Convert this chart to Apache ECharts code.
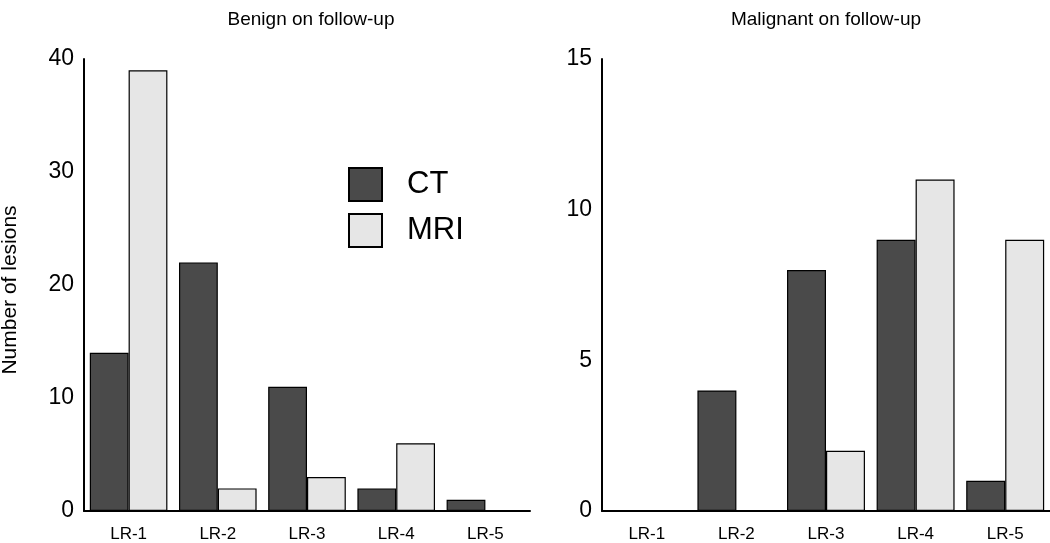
<!DOCTYPE html>
<html><head><meta charset="utf-8">
<script src="https://cdn.jsdelivr.net/npm/echarts@6/dist/echarts.min.js"></script>
<style>html,body{margin:0;padding:0;background:#fff}#c{width:1050px;height:543px}</style>
</head><body><div id="c"></div>
<script>
const categories = ['LR-1','LR-2','LR-3','LR-4','LR-5'];
const benignCT  = [14, 22, 11, 2, 1];
const benignMRI = [39, 2, 3, 6, 0];
const malignantCT  = [0, 4, 8, 9, 1];
const malignantMRI = [0, 0, 2, 11, 9];

const FONT = 'Liberation Sans, Arial, sans-serif';
const ctColor = '#4a4a4a', mriColor = '#e6e6e6';
const chart = echarts.init(document.getElementById('c'));

function xAxis(idx){
  return {type:'category', gridIndex:idx, data:categories,
    axisLine:{lineStyle:{color:'#000', width:2}}, axisTick:{show:false},
    axisLabel:{color:'#000', fontSize:17, fontFamily:FONT, margin:15}};
}
function yAxis(idx, max, interval){
  return {type:'value', gridIndex:idx, min:0, max:max, interval:interval,
    axisLine:{show:true, lineStyle:{color:'#000', width:2}}, axisTick:{show:false},
    splitLine:{show:false},
    axisLabel:{color:'#000', fontSize:23, fontFamily:FONT, margin:10}};
}
function bar(name, data, color, idx){
  return {type:'bar', name:name, data:data, xAxisIndex:idx, yAxisIndex:idx,
    barGap:'0%', barCategoryGap:'13%',
    itemStyle:{color:color, borderColor:'#000', borderWidth:1.2},
    emphasis:{disabled:true}};
}

chart.setOption({
  animation:false,
  graphic:[
    {type:'text', x:311, y:20,
      style:{text:'Benign on follow-up', fontSize:19, fontFamily:FONT, fill:'#000',
        align:'center', verticalAlign:'middle'}},
    {type:'text', x:826, y:20,
      style:{text:'Malignant on follow-up', fontSize:19, fontFamily:FONT, fill:'#000',
        align:'center', verticalAlign:'middle'}},
    {type:'text', x:10, y:290, rotation:Math.PI/2,
      style:{text:'Number of lesions', fontSize:21, fontFamily:FONT, fill:'#000',
        align:'center', verticalAlign:'middle'}}
  ],
  legend:{orient:'vertical', left:348, top:167, padding:0, itemWidth:33, itemHeight:33, itemGap:11,
    icon:'rect', data:['CT','MRI'],
    textStyle:{fontSize:31, color:'#000', fontFamily:FONT, padding:[0,0,0,20]}},
  grid:[
    {left:84, top:59, width:446, height:452},
    {left:602, top:59, width:448, height:452}
  ],
  xAxis:[xAxis(0), xAxis(1)],
  yAxis:[yAxis(0, 40, 10), yAxis(1, 15, 5)],
  series:[
    bar('CT', benignCT, ctColor, 0),
    bar('MRI', benignMRI, mriColor, 0),
    bar('CT', malignantCT, ctColor, 1),
    bar('MRI', malignantMRI, mriColor, 1)
  ]
});
</script></body></html>
